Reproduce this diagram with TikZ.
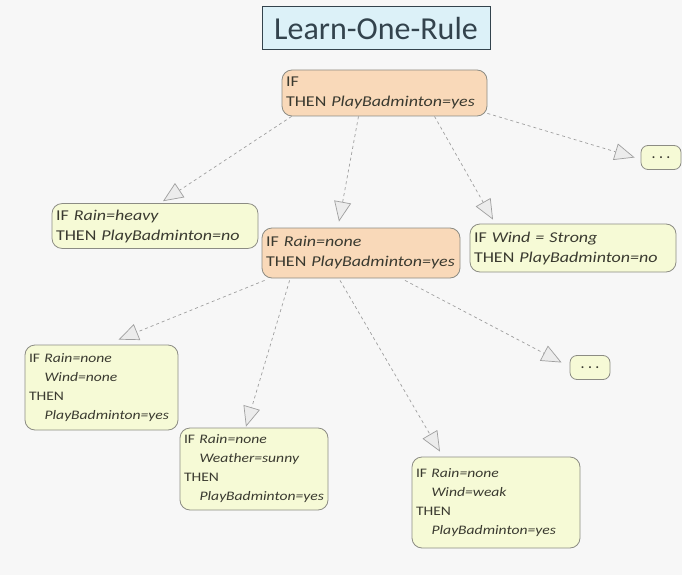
\documentclass[tikz,border=0pt]{standalone}
\usepackage{fontspec}
\setmainfont{Carlito}
\newfontfamily\rulefont[FakeStretch=1.2]{Carlito}
\usetikzlibrary{arrows.meta,calc}
\definecolor{bgc}{HTML}{F7F7F7}
\definecolor{titlefill}{HTML}{DCF1F8}
\definecolor{titleline}{HTML}{33434D}
\definecolor{orangefill}{HTML}{F9D9B9}
\definecolor{yellowfill}{HTML}{F6FAD6}
\definecolor{boxline}{HTML}{8C8C84}
\definecolor{textc}{HTML}{3A3A30}
\tikzset{
  rulebox/.style={draw=boxline, line width=0.8pt, rounded corners=10pt,
    inner xsep=4pt, inner ysep=6pt,
    align=left, text=textc, font=\rulefont\fontsize{15}{20}\selectfont,
    execute at begin node={\hyphenpenalty=10000 \exhyphenpenalty=10000 }},
  orangebox/.style={rulebox, fill=orangefill},
  yellowbox/.style={rulebox, fill=yellowfill},
  smallbox/.style={yellowbox, font=\rulefont\fontsize{13}{19}\selectfont},
  dotsbox/.style={draw=boxline, line width=0.8pt, rounded corners=7pt, fill=yellowfill,
    minimum width=40pt, minimum height=24pt, inner sep=0pt, text=textc, font=\fontsize{13}{14}\selectfont\bfseries},
  link/.style={draw=gray!75, dashed, line width=0.7pt,
    -{Triangle[open, length=20pt, width=17pt, line width=0.7pt, fill=gray!15]}},
}
\newcommand{\ind}{\hspace*{1.2em}}
\begin{document}
\begin{tikzpicture}[x=1pt, y=-1pt]
  \fill[bgc] (0,0) rectangle (682,575);
  \useasboundingbox (0,0) rectangle (682,575);

  % title
  \node[draw=titleline, line width=1pt, fill=titlefill, minimum width=228pt, minimum height=43pt,
        inner sep=0pt, text=titleline, font=\fontsize{32}{34}\selectfont] (title) at (376,28.5) {Learn-One-Rule};

  % rule nodes
  \node[orangebox, text width=197pt, minimum height=46pt] (root) at (384.5,93)
    {IF\\THEN~\textit{PlayBadminton=yes}};
  \node[yellowbox, text width=198pt, minimum height=44pt] (heavy) at (155,226)
    {IF~\textit{Rain=heavy}\\THEN~\textit{PlayBadminton=no}};
  \node[orangebox, text width=190pt, minimum height=50pt] (none) at (361,253)
    {IF~\textit{Rain=none}\\THEN~\textit{PlayBadminton=yes}};
  \node[yellowbox, text width=198pt, minimum height=48pt] (wind) at (573,248)
    {IF~\textit{Wind~=~Strong}\\THEN~\textit{PlayBadminton=no}};
  \node[dotsbox] (dotsA) at (661,157.5) {. . .};

  \node[smallbox, text width=145pt, minimum height=85pt] (bl) at (101.5,387.5)
    {IF~\textit{Rain=none}\\\ind\textit{Wind=none}\\THEN\\\ind\textit{PlayBadminton=yes}};
  \node[smallbox, text width=140pt, minimum height=82pt] (bm) at (254,469)
    {IF~\textit{Rain=none}\\\ind\textit{Weather=sunny}\\THEN\\\ind\textit{PlayBadminton=yes}};
  \node[smallbox, text width=160pt, minimum height=91pt] (br) at (496,502.5)
    {IF~\textit{Rain=none}\\\ind\textit{Wind=weak}\\THEN\\\ind\textit{PlayBadminton=yes}};
  \node[dotsbox] (dotsB) at (590,367.5) {. . .};

  % specialisation links
  \draw[link] ($(root.south west)+(10,0)$) -- ($(heavy.north)+(8,-2)$);
  \draw[link] ($(root.south)+(-26,0)$) -- ($(none.north)+(-22,-6)$);
  \draw[link] ($(root.south)+(50,0)$) -- ($(wind.north)+(-80,-4)$);
  \draw[link] ($(root.south east)+(0,-3)$) -- ($(dotsA.west)+(-6,0)$);

  \draw[link] ($(none.south west)+(3,2)$) -- ($(bl.north)+(17,-5)$);
  \draw[link] ($(none.south west)+(28,2)$) -- ($(bm.north)+(-8,-1)$);
  \draw[link] ($(none.south)+(-21,2)$) -- ($(br.north)+(-56,-5)$);
  \draw[link] ($(none.south)+(44,2)$) -- ($(dotsB.west)+(-8,-5)$);
\end{tikzpicture}
\end{document}
